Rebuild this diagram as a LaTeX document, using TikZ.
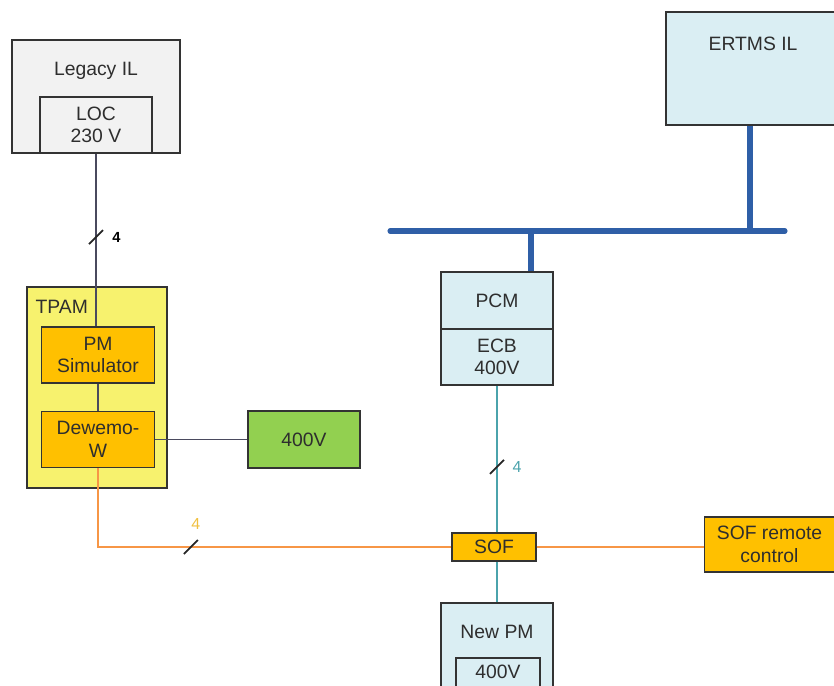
\documentclass[tikz,border=0pt]{standalone}
\usepackage{fontspec}
\setmainfont{Liberation Sans}
\usetikzlibrary{positioning}

\definecolor{textgray}{HTML}{2E2E2E}
\definecolor{edgegray}{HTML}{333333}
\definecolor{wiregray}{HTML}{4A4A5E}
\definecolor{boxgray}{HTML}{F2F2F2}
\definecolor{tpamyellow}{HTML}{F7F26E}
\definecolor{devorange}{HTML}{FFC000}
\definecolor{supplygreen}{HTML}{92D050}
\definecolor{ertmsblue}{HTML}{DAEEF3}
\definecolor{busblue}{HTML}{2F5FA7}
\definecolor{tealwire}{HTML}{4BA3AC}
\definecolor{orangewire}{HTML}{F79646}
\definecolor{yellowlabel}{HTML}{F0C040}

\begin{document}
\begin{tikzpicture}[
    x=0.75pt, y=-0.75pt,
    every node/.style={font=\fontsize{14.5}{17}\selectfont, text=textgray},
    box/.style={rectangle, draw=edgegray, line width=1pt, align=center, inner sep=0pt},
    legacybox/.style={box, fill=boxgray},
    tpambox/.style={box, fill=tpamyellow},
    devbox/.style={box, fill=devorange},
    ertmsbox/.style={box, fill=ertmsblue},
    supplybox/.style={box, fill=supplygreen},
    wire/.style={draw=wiregray, line width=1pt},
    orangeline/.style={draw=orangewire, line width=1.3pt},
    tealline/.style={draw=tealwire, line width=1.3pt},
    bus/.style={draw=busblue, line width=3.8pt},
    slash/.style={draw=black!85, line width=1.3pt},
    count/.style={inner sep=0pt, font=\fontsize{12}{14}\selectfont}
]

\useasboundingbox (0,0) rectangle (834,685);
\clip (0,0) rectangle (834,685);

% Legacy interlocking
\node[legacybox, minimum width=126pt, minimum height=84.75pt,
      label={[anchor=center, yshift=-24pt]north:Legacy IL}] (legacy) at (96,96.5) {};
\node[legacybox, minimum width=84pt, minimum height=42pt] (loc) at (96,125) {LOC\\230 V};

% TPAM with its modules
\node[tpambox, minimum width=105pt, minimum height=150.75pt,
      label={[anchor=center, xshift=26.6pt, yshift=-15.75pt]north west:TPAM}] (tpam) at (97,387.5) {};
\node[devbox, minimum width=84.75pt, minimum height=42pt] (pmsim) at (98,355) {PM\\Simulator};
\node[devbox, minimum width=84.75pt, minimum height=42pt] (dewemo) at (98,439.5) {Dewemo-\\W};
\node[supplybox, minimum width=84pt, minimum height=42.75pt] (supply) at (304,439.5) {400V};

% ERTMS side
\node[ertmsbox, minimum width=130.5pt, minimum height=84.75pt,
      label={[anchor=center, yshift=-24.75pt]north:ERTMS IL}] (ertms) at (753,68.5) {};
\node[ertmsbox, minimum width=84pt, minimum height=42.75pt] (pcm) at (497,300.5) {PCM};
\node[ertmsbox, minimum width=84pt, minimum height=42pt] (ecb) at (497,357) {ECB\\400V};

% Switch over
\node[devbox, minimum width=63pt, minimum height=21pt] (sof) at (494,547) {SOF};
\node[devbox, minimum width=97.5pt, minimum height=41.25pt] (remote) at (769.5,544.5) {SOF remote\\control};

% New point machine
\node[ertmsbox, minimum width=84pt, minimum height=72pt,
      label={[anchor=center, yshift=-22.5pt]north:New PM}] (newpm) at (497,651) {};
\node[ertmsbox, minimum width=63pt, minimum height=40.5pt,
      label={[anchor=center, yshift=-11.25pt]north:400V}] (newpmsupply) at (498,685) {};

% Bus
\coordinate (busw) at (390,231);
\coordinate (buse) at (785,231);
\coordinate (pcmtap) at (531,231);
\coordinate (ertmstap) at (750,231);
\draw[bus, line cap=round] (busw) -- (buse);
\draw[bus] (pcmtap) -- (pcmtap |- pcm.north);
\draw[bus] (ertmstap) -- (ertmstap |- ertms.south);

% Wires
\draw[wire] (loc.south) -- coordinate[pos=0.483] (cut1) (loc.south |- pmsim.north);
\draw[slash] (cut1) ++(-7,7) -- ++(14,-14);
\node[count, right=12pt of cut1, font=\fontsize{11}{13}\bfseries, text=black] (n1) {4};

\draw[wire] (pmsim.south) -- (dewemo.north);
\draw[wire] (dewemo.east) -- (supply.west);

\draw[orangeline] (dewemo.south) -- (dewemo.south |- sof.west)
    -- coordinate[pos=0.263] (cut2) (sof.west);
\draw[slash] (cut2) ++(-7,7) -- ++(14,-14);
\node[count, above=13pt of cut2, xshift=3.75pt, text=yellowlabel] (n2) {4};
\draw[orangeline] (sof.east) -- (sof.east -| remote.west);

\draw[tealline] (ecb.south) -- coordinate[pos=0.554] (cut3) (ecb.south |- sof.north);
\draw[slash] (cut3) ++(-7,7) -- ++(14,-14);
\node[count, right=11.5pt of cut3, text=tealwire] (n3) {4};
\draw[tealline] (sof.south -| ecb.south) -- (newpm.north);

\end{tikzpicture}
\end{document}
